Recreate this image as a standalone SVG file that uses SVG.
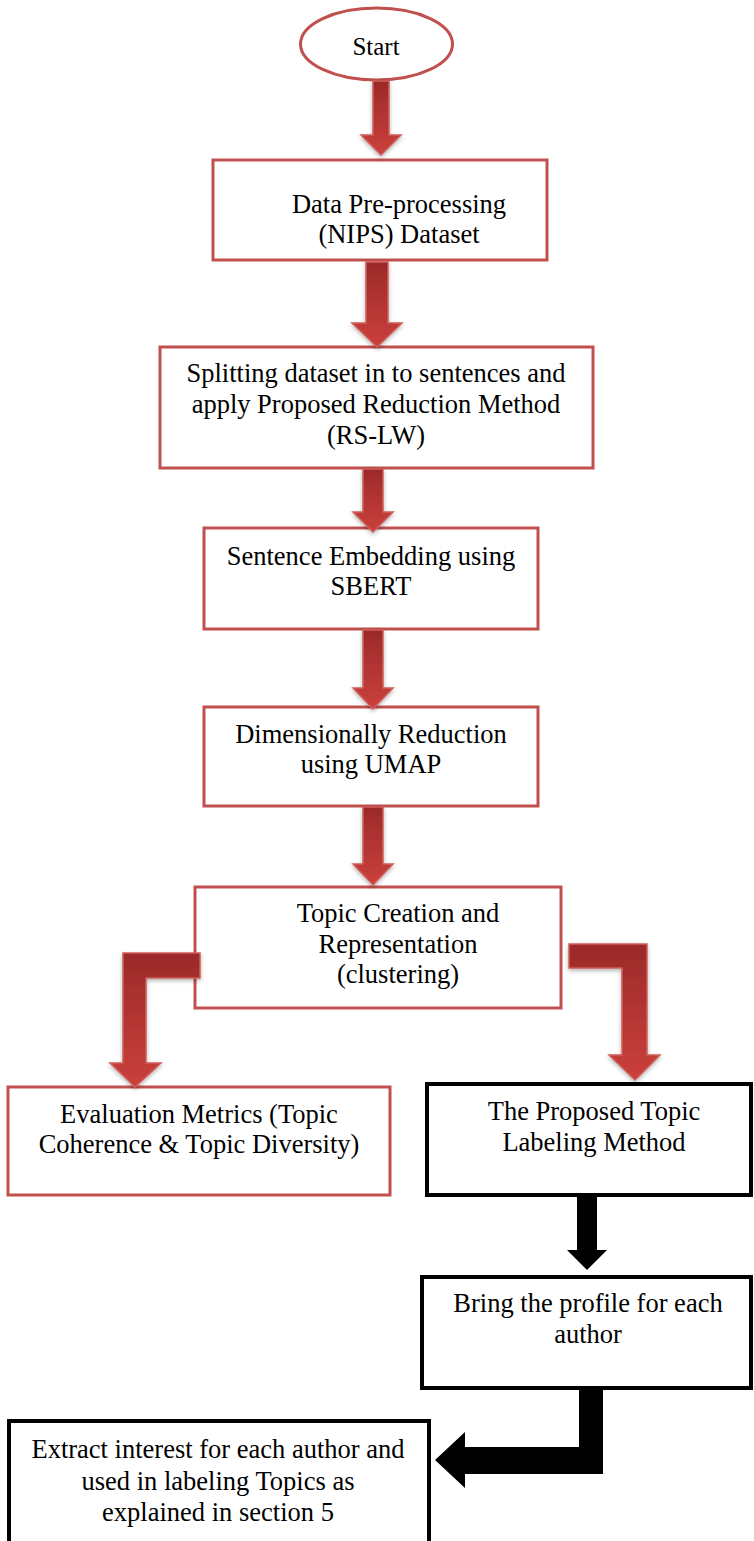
<svg xmlns="http://www.w3.org/2000/svg" width="754" height="1541" viewBox="0 0 754 1541">
<defs>
<linearGradient id="redGrad" x1="0" y1="0" x2="0" y2="1">
<stop offset="0" stop-color="#9b2a29"/>
<stop offset="1" stop-color="#cb403c"/>
</linearGradient>
<filter id="shadow" x="-30%" y="-30%" width="160%" height="160%">
<feDropShadow dx="0" dy="2" stdDeviation="2" flood-color="#000" flood-opacity="0.3"/>
</filter>
<style>
.red{fill:#fff;stroke:#c0504d;stroke-width:3}
.blk{fill:#fff;stroke:#000;stroke-width:4}
.rarrow{fill:url(#redGrad);stroke:#cf5d59;stroke-width:1.5;stroke-linejoin:miter;filter:url(#shadow)}
.barrow{fill:#000;stroke:none}
text{font-family:"Liberation Serif","Times New Roman",serif;font-size:26.5px;fill:#000;text-anchor:middle}
</style>
</defs>
<rect width="754" height="1541" fill="#fff"/>

<g id="n-start">
<ellipse class="red" cx="376.5" cy="44" rx="76" ry="36"/>
<text x="376" y="55" style="font-size:25px">Start</text>
</g>

<g id="n-preprocess">
<rect class="red" x="213" y="160" width="334" height="100"/>
<text x="399" y="213">Data Pre-processing</text>
<text x="399" y="243">(NIPS) Dataset</text>
</g>

<g id="n-split">
<rect class="red" x="160" y="347" width="433" height="121"/>
<text x="376" y="382">Splitting dataset in to sentences and</text>
<text x="376" y="413">apply Proposed Reduction Method</text>
<text x="376" y="444">(RS-LW)</text>
</g>

<g id="n-embed">
<rect class="red" x="204" y="528" width="334" height="101"/>
<text x="371" y="565">Sentence Embedding using</text>
<text x="371" y="595">SBERT</text>
</g>

<g id="n-umap">
<rect class="red" x="204" y="707" width="334" height="99"/>
<text x="371" y="743">Dimensionally Reduction</text>
<text x="371" y="773">using UMAP</text>
</g>

<g id="n-topic">
<rect class="red" x="195" y="887" width="366" height="121"/>
<text x="398" y="922">Topic Creation and</text>
<text x="398" y="953">Representation</text>
<text x="398" y="983">(clustering)</text>
</g>

<g id="n-eval">
<rect class="red" x="8" y="1087" width="382" height="108"/>
<text x="199" y="1123">Evaluation Metrics (Topic</text>
<text x="199" y="1153">Coherence &amp; Topic Diversity)</text>
</g>

<g id="n-label">
<rect class="blk" x="427" y="1084" width="324" height="111"/>
<text x="594" y="1120">The Proposed Topic</text>
<text x="594" y="1151">Labeling Method</text>
</g>

<g id="n-profile">
<rect class="blk" x="422" y="1277" width="329" height="111"/>
<text x="588" y="1312">Bring the profile for each</text>
<text x="588" y="1343">author</text>
</g>

<g id="n-extract">
<rect class="blk" x="9" y="1421" width="420" height="140"/>
<text x="218" y="1458">Extract interest for each author and</text>
<text x="218" y="1490">used in labeling Topics as</text>
<text x="218" y="1521">explained in section 5</text>
</g>

<g id="connectors">
<path class="rarrow" d="M373,81 L389,81 L389,135 L401,135 L381,155 L361,135 L373,135 Z"/>
<path class="rarrow" d="M366,262 L388,262 L388,323 L402,323 L377,347 L352,323 L366,323 Z"/>
<path class="rarrow" d="M363,469 L383,469 L383,512 L393,512 L373,532 L353,512 L363,512 Z"/>
<path class="rarrow" d="M363,630 L383,630 L383,688 L393,688 L373,709 L353,688 L363,688 Z"/>
<path class="rarrow" d="M363,807 L383,807 L383,864 L393,864 L373,885 L353,864 L363,864 Z"/>
<path class="rarrow" d="M200,953 L123,953 L123,1063 L110,1063 L135,1087 L161,1063 L146,1063 L146,978 L200,978 Z"/>
<path class="rarrow" d="M569,944 L647,944 L647,1055 L660,1055 L635,1080 L609,1055 L622,1055 L622,968 L569,968 Z"/>
<path class="barrow" d="M577,1195 L597,1195 L597,1250 L607,1250 L587,1270 L567,1250 L577,1250 Z"/>
<path class="barrow" d="M579,1388 L603,1388 L603,1474 L465,1474 L465,1488 L435,1460 L465,1432 L465,1447 L579,1447 Z"/>
</g>
</svg>
